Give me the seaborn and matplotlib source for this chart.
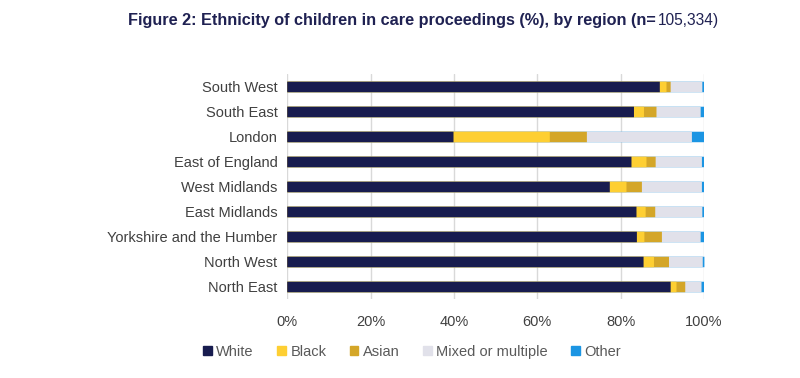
"""Stacked bar chart: ethnicity of children in care proceedings by region."""

import pandas as pd
import matplotlib.pyplot as plt
import seaborn as sns

regions = ['South West', 'South East', 'London', 'East of England', 'West Midlands',
           'East Midlands', 'Yorkshire and the Humber', 'North West', 'North East']
white = [89.4, 83.2, 39.9, 82.6, 77.4, 83.8, 83.9, 85.5, 92.0]
black = [1.6, 2.4, 23.1, 3.6, 4.0, 2.2, 1.8, 2.5, 1.4]
asian = [1.0, 3.0, 8.9, 2.2, 3.7, 2.3, 4.2, 3.6, 2.1]
mixed = [7.6, 10.6, 25.2, 11.1, 14.4, 11.3, 9.3, 8.1, 3.9]
other = [0.4, 0.8, 2.9, 0.5, 0.5, 0.4, 0.8, 0.4, 0.6]

groups = ['White', 'Black', 'Asian', 'Mixed or multiple', 'Other']
colors = ['#181c4f', '#fecf33', '#d4a628', '#e1e1ea', '#1b95e3']

sns.set_theme(style='white')
plt.rcParams['font.family'] = ['Liberation Sans', 'DejaVu Sans']

df = pd.DataFrame({'region': regions, 'White': white, 'Black': black,
                   'Asian': asian, 'Mixed or multiple': mixed, 'Other': other})

# cumulative totals, drawn back to front so each segment shows
cum = df[groups].cumsum(axis=1)
cum['region'] = df['region']

fig = plt.figure(figsize=(8, 3.78), dpi=100)
ax = fig.add_axes([0.359, 0.2077, 0.521, 0.5953])

for grp, col in reversed(list(zip(groups, colors))):
    sns.barplot(data=cum, x=grp, y='region', color=col, width=0.42,
                saturation=1, orient='h', ax=ax, zorder=3, clip_on=False,
                snap=False, linewidth=0)

ax.set_xlim(0, 100)
ax.set_ylim(8.5, -0.5)
ax.set_xticks(range(0, 101, 20))
ax.set_xticklabels([f'{t}%' for t in range(0, 101, 20)])
ax.xaxis.grid(True, color='#d9d9d9', linewidth=1)
ax.set_axisbelow(True)
for s in ax.spines.values():
    s.set_visible(False)
ax.set_xlabel('')
ax.set_ylabel('')
ax.tick_params(axis='both', length=0, labelsize=10.5, colors='#404040')
ax.tick_params(axis='x', pad=11)
ax.tick_params(axis='y', pad=7)

handles = [plt.Rectangle((0, 0), 1, 1, color=c) for c in colors]
fig.legend(handles, groups, loc='center', bbox_to_anchor=(0.515, 0.069), ncol=5,
           frameon=False, handlelength=0.6, handleheight=0.6, handletextpad=0.3,
           columnspacing=1.6, prop={'size': 10.5}, labelcolor='#595959')

fig.text(0.82, 0.945, 'Figure 2: Ethnicity of children in care proceedings (%), by region (n=',
         ha='right', va='center', fontsize=11.7, fontweight='bold', color='#1f2152')
fig.text(0.822, 0.945, '105,334)', ha='left', va='center', fontsize=11.2, color='#1f2152')

fig.savefig('out.png', dpi=100)
